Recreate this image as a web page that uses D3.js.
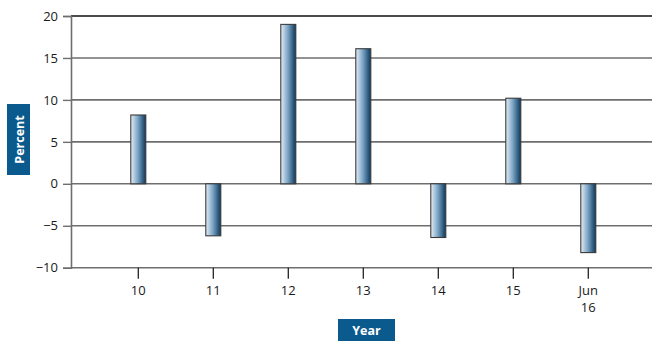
<!DOCTYPE html>
<html>
<head>
<meta charset="utf-8">
<script src="https://cdn.jsdelivr.net/npm/d3@7"></script>
<style>
  html, body { margin: 0; padding: 0; background: #fff; }
  svg { display: block; font-family: "Open Sans", "Noto Sans", sans-serif; }
</style>
</head>
<body>
<svg id="chart" width="652" height="341"></svg>
<script>
// Annual change, percent
const categories = ["10", "11", "12", "13", "14", "15", "Jun\n16"];
const values = [8.2, -6.2, 19.0, 16.1, -6.4, 10.2, -8.2];
const yTicks = [-10, -5, 0, 5, 10, 15, 20];

const svg = d3.select("#chart");
const W = 652;
const axisX = 71;

const y = d3.scaleLinear().domain([-10, 20]).range([267.7, 16]);
const x = d3.scalePoint().domain(categories).range([138.3, 588.3]);
const barW = 15;

// bar gradient: light on the left, dark navy on the right
const defs = svg.append("defs");
const grad = defs.append("linearGradient").attr("id", "barGrad")
  .attr("x1", "0%").attr("x2", "100%").attr("y1", "0%").attr("y2", "0%");
grad.append("stop").attr("offset", "0%").attr("stop-color", "#e6eef5");
grad.append("stop").attr("offset", "45%").attr("stop-color", "#7fa8c8");
grad.append("stop").attr("offset", "100%").attr("stop-color", "#0a375c");

// horizontal grid lines
svg.append("g").selectAll("line").data(yTicks).join("line")
  .attr("x1", axisX).attr("x2", W)
  .attr("y1", d => y(d)).attr("y2", d => y(d))
  .attr("stroke", d => d === 20 ? "#111" : "#6e6e6e")
  .attr("stroke-width", d => d === 20 ? 1.6 : 1.6);

// y axis
const yAxis = d3.axisLeft(y).tickValues(yTicks).tickSize(8).tickPadding(5)
  .tickFormat(d => d < 0 ? "\u2212" + Math.abs(d) : d);
const gy = svg.append("g").attr("transform", `translate(${axisX},0)`).call(yAxis);
gy.select(".domain").attr("stroke", "#6e6e6e").attr("stroke-width", 1.6);
gy.selectAll(".tick line").attr("stroke", "#6e6e6e").attr("stroke-width", 1.4);
gy.selectAll(".tick text").attr("font-size", 13).attr("fill", "#1a1a1a")
  .attr("font-family", "'Open Sans', sans-serif");

// x axis tick marks and labels
const gx = svg.append("g").attr("transform", `translate(0,${y(-10)})`);
gx.selectAll("line").data(categories).join("line")
  .attr("x1", d => x(d)).attr("x2", d => x(d))
  .attr("y1", 0).attr("y2", 11)
  .attr("stroke", "#222").attr("stroke-width", 1.3);
gx.selectAll("text").data(categories).join("text")
  .attr("x", d => x(d)).attr("y", 27)
  .attr("text-anchor", "middle").attr("font-size", 13).attr("fill", "#1a1a1a")
  .each(function(d) {
    const parts = d.split("\n");
    d3.select(this).selectAll("tspan").data(parts).join("tspan")
      .attr("x", x(d)).attr("dy", (p, i) => i === 0 ? 0 : 17.5).text(p => p);
  });

// bars
svg.append("g").selectAll("rect").data(values).join("rect")
  .attr("x", (d, i) => x(categories[i]) - barW / 2)
  .attr("width", barW)
  .attr("y", d => y(Math.max(0, d)))
  .attr("height", d => Math.abs(y(d) - y(0)))
  .attr("fill", "url(#barGrad)")
  .attr("stroke", "#3a3a3a").attr("stroke-width", 1.1);

// axis title boxes
const boxColor = "#0b5a8e";
svg.append("rect").attr("x", 7).attr("y", 104).attr("width", 23).attr("height", 71)
  .attr("fill", boxColor);
svg.append("text").attr("transform", "translate(23.5,139.5) rotate(-90)")
  .attr("text-anchor", "middle").attr("font-size", 12.5).attr("font-weight", "bold")
  .attr("fill", "#fff").text("Percent");

svg.append("rect").attr("x", 338).attr("y", 319).attr("width", 57).attr("height", 22)
  .attr("fill", boxColor);
svg.append("text").attr("x", 366.5).attr("y", 334.5)
  .attr("text-anchor", "middle").attr("font-size", 12.5).attr("font-weight", "bold")
  .attr("fill", "#fff").text("Year");
</script>
</body>
</html>
